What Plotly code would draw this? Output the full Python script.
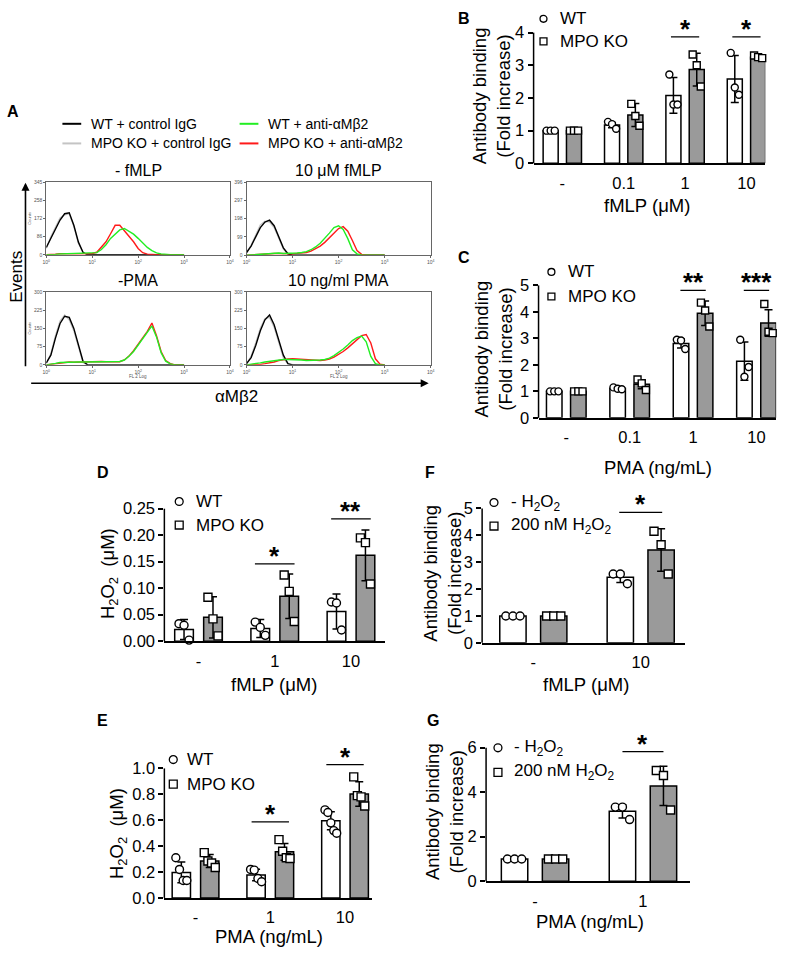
import plotly.graph_objects as go

W, H = 792, 956
FONT = "Liberation Sans, Arial, sans-serif"

# ---------------- panel A: flow cytometry histograms ----------------
# log10(FL2) channel positions where the curves were read off the picture
LOG_FL2 = [0.0, 0.1, 0.2, 0.3, 0.4, 0.5, 0.6, 0.7, 0.8, 0.9,
           1.0, 1.1, 1.2, 1.3, 1.4, 1.5, 1.6, 1.7, 1.8, 1.9,
           2.0, 2.1, 2.2, 2.3, 2.4, 2.5, 2.6, 2.7, 2.8, 2.9, 3.0]

HIST_TITLES = ["- fMLP", "10 μM fMLP", "-PMA", "10 ng/ml PMA"]
HIST_YTICKS = [[0, 86, 172, 258, 345], [0, 99, 198, 297, 396],
               [0, 75, 150, 225, 300], [0, 75, 150, 225, 300]]

# - fMLP
FMLP0_WT_IGG = [35, 80, 120, 165, 195, 200, 140, 60, 12, 0, 0, 0, 0, 0, 0, 0,
                0, 0, 0, 0, 0, 0, 0, 0, 0, 0, 0, 0, 0, 0, 0]
FMLP0_KO_IGG = [30, 85, 130, 175, 190, 195, 135, 55, 10, 0, 0, 0, 0, 0, 0, 0,
                0, 0, 0, 0, 0, 0, 0, 0, 0, 0, 0, 0, 0, 0, 0]
FMLP0_WT_ANTI = [0, 0, 2, 4, 5, 5, 6, 6, 7, 8, 8, 10, 25, 48, 78, 98,
                 118, 125, 112, 98, 78, 55, 35, 20, 9, 4, 1, 0, 0, 0, 0]
FMLP0_KO_ANTI = [0, 0, 3, 5, 6, 5, 5, 5, 5, 6, 6, 12, 35, 62, 100, 140,
                 140, 115, 90, 62, 30, 10, 3, 0, 0, 0, 0, 0, 0, 0, 0]
# 10 uM fMLP
FMLP10_WT_IGG = [15, 50, 100, 150, 180, 190, 160, 100, 40, 8, 0, 0, 0, 0, 0, 0,
                 0, 0, 0, 0, 0, 0, 0, 0, 0, 0, 0, 0, 0, 0, 0]
FMLP10_KO_IGG = [12, 55, 110, 165, 185, 180, 150, 90, 35, 5, 0, 0, 0, 0, 0, 0,
                 0, 0, 0, 0, 0, 0, 0, 0, 0, 0, 0, 0, 0, 0, 0]
FMLP10_WT_ANTI = [0, 2, 6, 8, 10, 10, 12, 12, 10, 10, 10, 12, 15, 20, 30, 45,
                  65, 90, 120, 150, 160, 140, 90, 30, 8, 0, 0, 0, 0, 0, 0]
FMLP10_KO_ANTI = [0, 2, 5, 8, 8, 10, 10, 10, 8, 8, 8, 10, 12, 15, 22, 35,
                  50, 70, 95, 125, 145, 155, 130, 80, 25, 5, 0, 0, 0, 0, 0]
# - PMA
PMA0_WT_IGG = [8, 40, 110, 170, 200, 195, 150, 80, 15, 0, 0, 0, 0, 0, 0, 0,
               0, 0, 0, 0, 0, 0, 0, 0, 0, 0, 0, 0, 0, 0, 0]
PMA0_KO_IGG = [5, 45, 120, 180, 205, 185, 140, 70, 10, 0, 0, 0, 0, 0, 0, 0,
               0, 0, 0, 0, 0, 0, 0, 0, 0, 0, 0, 0, 0, 0, 0]
PMA0_WT_ANTI = [0, 2, 6, 10, 11, 12, 12, 12, 12, 12, 14, 15, 15, 13, 12, 12,
                14, 20, 35, 55, 80, 105, 130, 160, 115, 50, 15, 4, 0, 0, 0]
PMA0_KO_ANTI = [0, 2, 5, 9, 10, 12, 11, 12, 13, 12, 13, 14, 14, 13, 12, 12,
                13, 20, 36, 58, 84, 110, 138, 172, 120, 55, 18, 5, 0, 0, 0]
# 10 ng/ml PMA
PMA10_WT_IGG = [5, 30, 80, 140, 185, 205, 165, 100, 40, 5, 0, 0, 0, 0, 0, 0,
                0, 0, 0, 0, 0, 0, 0, 0, 0, 0, 0, 0, 0, 0, 0]
PMA10_KO_IGG = [5, 35, 90, 150, 190, 195, 155, 90, 30, 3, 0, 0, 0, 0, 0, 0,
                0, 0, 0, 0, 0, 0, 0, 0, 0, 0, 0, 0, 0, 0, 0]
PMA10_WT_ANTI = [0, 2, 5, 8, 12, 15, 18, 20, 22, 22, 22, 20, 20, 18, 18, 18,
                 20, 22, 28, 38, 50, 65, 82, 100, 112, 118, 95, 35, 5, 0, 0]
PMA10_KO_ANTI = [0, 0, 1, 2, 5, 8, 12, 18, 22, 24, 25, 24, 22, 20, 18, 18,
                 18, 20, 24, 32, 42, 55, 70, 88, 105, 120, 125, 90, 25, 3, 0]

HIST_CURVES = [
    (FMLP0_KO_IGG, FMLP0_WT_IGG, FMLP0_KO_ANTI, FMLP0_WT_ANTI),
    (FMLP10_KO_IGG, FMLP10_WT_IGG, FMLP10_KO_ANTI, FMLP10_WT_ANTI),
    (PMA0_KO_IGG, PMA0_WT_IGG, PMA0_KO_ANTI, PMA0_WT_ANTI),
    (PMA10_KO_IGG, PMA10_WT_IGG, PMA10_KO_ANTI, PMA10_WT_ANTI),
]

# ---------------- panel B: fMLP, antibody binding ----------------
B_DOSES = ["-", "0.1", "1", "10"]
B_WT_MEAN = [1.0, 1.17, 2.08, 2.58]
B_WT_SD = [0.02, 0.08, 0.55, 0.72]
B_KO_MEAN = [1.0, 1.48, 2.87, 3.25]
B_KO_SD = [0.03, 0.35, 0.5, 0.06]
B_WT_PTS = [[1.0, 1.0, 1.0], [1.27, 1.2, 1.06], [2.72, 1.8, 1.8], [3.38, 2.32, 2.1]]
B_KO_PTS = [[1.0, 1.0, 1.0], [1.82, 1.45, 1.15], [3.33, 3.0, 2.35], [3.3, 3.25, 3.22]]
B_SIG = ["", "", "*", "*"]
B_SIG_Y = [None, None, 3.87, 3.87]

# ---------------- panel C: PMA, antibody binding ----------------
C_DOSES = ["-", "0.1", "1", "10"]
C_WT_MEAN = [1.0, 1.11, 2.81, 2.14]
C_WT_SD = [0.03, 0.04, 0.17, 0.72]
C_KO_MEAN = [1.0, 1.27, 3.95, 3.58]
C_KO_SD = [0.03, 0.17, 0.46, 0.5]
C_WT_PTS = [[1.0, 1.0, 1.0], [1.15, 1.1, 1.08], [2.95, 2.92, 2.6], [2.95, 1.55, 1.92]]
C_KO_PTS = [[1.0, 1.0, 1.0], [1.45, 1.3, 1.05], [4.35, 4.05, 3.45], [4.3, 3.25, 3.2]]
C_SIG = ["", "", "**", "***"]
C_SIG_Y = [None, None, 4.81, 4.81]

# ---------------- panel D: fMLP, H2O2 ----------------
D_DOSES = ["-", "1", "10"]
D_WT_MEAN = [0.022, 0.024, 0.056]
D_WT_SD = [0.019, 0.017, 0.033]
D_KO_MEAN = [0.045, 0.085, 0.162]
D_KO_SD = [0.039, 0.042, 0.048]
D_WT_PTS = [[0.033, 0.030, 0.002], [0.036, 0.026, 0.011], [0.074, 0.072, 0.021]]
D_KO_PTS = [[0.083, 0.042, 0.010], [0.125, 0.094, 0.037], [0.195, 0.186, 0.108]]
D_SIG = ["", "*", "**"]
D_SIG_Y = [None, 0.146, 0.231]

# ---------------- panel E: PMA, H2O2 ----------------
E_DOSES = ["-", "1", "10"]
E_WT_MEAN = [0.197, 0.177, 0.596]
E_WT_SD = [0.08, 0.045, 0.07]
E_KO_MEAN = [0.285, 0.356, 0.803]
E_KO_SD = [0.05, 0.065, 0.095]
E_WT_PTS = [[0.31, 0.22, 0.135, 0.135], [0.22, 0.215, 0.15, 0.125],
            [0.68, 0.66, 0.58, 0.52, 0.50]]
E_KO_PTS = [[0.35, 0.285, 0.27, 0.235], [0.45, 0.36, 0.31, 0.305],
            [0.935, 0.79, 0.78, 0.71]]
E_SIG = ["", "*", "*"]
E_SIG_Y = [None, 0.588, 1.03]

# ---------------- panel F: fMLP +/- H2O2 ----------------
F_DOSES = ["-", "10"]
F_CTRL_MEAN = [1.0, 2.44]
F_CTRL_SD = [0.01, 0.2]
F_H2O2_MEAN = [1.0, 3.45]
F_H2O2_SD = [0.02, 0.79]
F_CTRL_PTS = [[1.0, 1.0, 1.0], [2.56, 2.56, 2.2]]
F_H2O2_PTS = [[1.0, 1.0, 1.0], [4.15, 3.65, 2.56]]
F_SIG = ["", "*"]
F_SIG_Y = [None, 4.85]

# ---------------- panel G: PMA +/- H2O2 ----------------
G_DOSES = ["-", "1"]
G_CTRL_MEAN = [1.0, 3.14]
G_CTRL_SD = [0.01, 0.3]
G_H2O2_MEAN = [1.0, 4.28]
G_H2O2_SD = [0.02, 0.88]
G_CTRL_PTS = [[1.0, 1.0, 1.0], [3.33, 3.33, 2.77]]
G_H2O2_PTS = [[1.0, 1.0, 1.0], [4.97, 4.75, 3.2]]
G_SIG = ["", "*"]
G_SIG_Y = [None, 5.82]


def px_x(x):
    return x / W


def px_y(y):
    return 1 - y / H


fig = go.Figure()
shapes = []
annotations = []


def text(x, y, s, size=16, anchor="center", angle=0, bold=False, color="black", va="middle"):
    if bold:
        s = "<b>" + s + "</b>"
    annotations.append(dict(
        x=px_x(x), y=px_y(y), xref="paper", yref="paper", text=s, showarrow=False,
        xanchor=anchor, yanchor=va, textangle=angle,
        font=dict(family=FONT, size=size, color=color),
    ))


# ---- histograms
HIST_BOXES = [(42.7, 228.3, 176.5, 250.5), (245, 431, 176.5, 251),
              (42.7, 228.3, 288.3, 362.7), (245, 431, 288.3, 362.7)]
HIST_COLORS = ["#c4c4c4", "#000000", "#ff1a1a", "#22ee22"]
log_x = [10 ** v for v in LOG_FL2]

for i, (box, curves) in enumerate(zip(HIST_BOXES, HIST_CURVES)):
    k = i + 1
    for curve, color in zip(curves, HIST_COLORS):
        fig.add_trace(go.Scatter(
            x=log_x, y=curve, mode="lines", line=dict(color=color, width=1.4),
            xaxis=f"x{k}", yaxis=f"y{k}", showlegend=False, hoverinfo="skip",
        ))
    l, r, t, b = box
    fig.layout[f"xaxis{k}"] = dict(
        domain=[px_x(l), px_x(r)], anchor=f"y{k}", type="log", range=[0, 4],
        tickvals=[1, 10, 100, 1000, 10000],
        ticktext=["10<sup>0</sup>", "10<sup>1</sup>", "10<sup>2</sup>", "10<sup>3</sup>", "10<sup>4</sup>"],
        tickfont=dict(family=FONT, size=5, color="#555"), ticks="outside", ticklen=2,
        tickcolor="#666", showline=True, mirror=True, linecolor="#666", linewidth=1,
        showgrid=False, zeroline=False,
    )
    fig.layout[f"yaxis{k}"] = dict(
        domain=[px_y(b), px_y(t)], anchor=f"x{k}", range=[0, HIST_YTICKS[i][-1]],
        tickvals=HIST_YTICKS[i], tickfont=dict(family=FONT, size=5, color="#555"),
        ticks="outside", ticklen=2, tickcolor="#666", showline=True, mirror=True,
        linecolor="#666", linewidth=1, showgrid=False, zeroline=False,
    )
    text((l + r) / 2, t - 12, HIST_TITLES[i], size=16)

text(26, 213, "Counts", size=4, angle=-90, color="#555")
text(26, 325, "Counts", size=4, angle=-90, color="#555")
text(135.5, 375, "FL 2 Log", size=4.5, color="#555")
text(338, 375, "FL 2 Log", size=4.5, color="#555")

# legend for A
A_LEGEND = [("WT + control IgG", "#000000", 59, 117), ("MPO KO + control IgG", "#c4c4c4", 59, 137),
            ("WT + anti-αMβ2", "#22ee22", 238, 117), ("MPO KO + anti-αMβ2", "#ff1a1a", 238, 137)]
for label, color, lx, ly in A_LEGEND:
    shapes.append(dict(type="line", xref="paper", yref="paper", x0=px_x(lx), x1=px_x(lx + 19),
                       y0=px_y(ly), y1=px_y(ly), line=dict(color=color, width=2)))
    text(lx + 27, ly, label, size=14, anchor="left")

# axis arrows of A
annotations.append(dict(x=px_x(21.7), y=px_y(177), xref="paper", yref="paper", text="",
                        showarrow=True, ax=0, ay=185, arrowhead=2, arrowsize=1, arrowwidth=1.6,
                        arrowcolor="black", standoff=0, startstandoff=0))
annotations.append(dict(x=px_x(429), y=px_y(381.5), xref="paper", yref="paper", text="",
                        showarrow=True, ax=-399, ay=0, arrowhead=2, arrowsize=1, arrowwidth=1.6,
                        arrowcolor="black", standoff=0, startstandoff=0))
text(13, 273, "Events", size=17, angle=-90)
text(235, 395, "αMβ2", size=17)

# ---- bar panels
JITTER = {3: [-0.27, 0.0, 0.27], 4: [-0.3, -0.1, 0.1, 0.3], 5: [-0.32, -0.16, 0.0, 0.16, 0.32]}
BAR_W = 0.245
OFFSET = 0.19
TICK_SIZE = 16.5
TITLE_SIZE = 18.5

PANELS = [
    dict(k=5, doses=B_DOSES, a=(B_WT_MEAN, B_WT_SD, B_WT_PTS), b=(B_KO_MEAN, B_KO_SD, B_KO_PTS),
         sig=B_SIG, sig_y=B_SIG_Y, xl=535, xr=769, y0=157.3, ppu=33.3, ytop=4.0, ymax=4.0,
         xrange=[-0.468, 3.306], yticks=[0, 1, 2, 3, 4], yfmt="{:g}", half=0.23, msize=7),
    dict(k=6, doses=C_DOSES, a=(C_WT_MEAN, C_WT_SD, C_WT_PTS), b=(C_KO_MEAN, C_KO_SD, C_KO_PTS),
         sig=C_SIG, sig_y=C_SIG_Y, xl=540, xr=780, y0=416.7, ppu=27.0, ytop=5.0, ymax=5.0,
         xrange=[-0.4375, 3.31], yticks=[0, 1, 2, 3, 4, 5], yfmt="{:g}", half=0.2, msize=7),
    dict(k=7, doses=D_DOSES, a=(D_WT_MEAN, D_WT_SD, D_WT_PTS), b=(D_KO_MEAN, D_KO_SD, D_KO_PTS),
         sig=D_SIG, sig_y=D_SIG_Y, xl=162, xr=385, y0=644.3, ppu=540.0, ytop=0.25, ymax=0.25,
         xrange=[-0.448, 2.448], yticks=[0, 0.05, 0.1, 0.15, 0.2, 0.25], yfmt="{:.2f}", half=0.26, msize=8),
    dict(k=8, doses=E_DOSES, a=(E_WT_MEAN, E_WT_SD, E_WT_PTS), b=(E_KO_MEAN, E_KO_SD, E_KO_PTS),
         sig=E_SIG, sig_y=E_SIG_Y, xl=162, xr=372, y0=906, ppu=132.0, ytop=1.1, ymax=1.0,
         xrange=[-0.417, 2.364], yticks=[0, 0.2, 0.4, 0.6, 0.8, 1.0], yfmt="{:.1f}", half=0.25, msize=8),
    dict(k=9, doses=F_DOSES, a=(F_CTRL_MEAN, F_CTRL_SD, F_CTRL_PTS), b=(F_H2O2_MEAN, F_H2O2_SD, F_H2O2_PTS),
         sig=F_SIG, sig_y=F_SIG_Y, xl=483, xr=688, y0=646, ppu=27.4, ytop=5.0, ymax=5.0,
         xrange=[-0.477, 1.413], yticks=[0, 1, 2, 3, 4, 5], yfmt="{:g}", half=0.2, msize=8),
    dict(k=10, doses=G_DOSES, a=(G_CTRL_MEAN, G_CTRL_SD, G_CTRL_PTS), b=(G_H2O2_MEAN, G_H2O2_SD, G_H2O2_PTS),
         sig=G_SIG, sig_y=G_SIG_Y, xl=487, xr=693, y0=889, ppu=22.7, ytop=6.0, ymax=6.0,
         xrange=[-0.454, 1.436], yticks=[0, 2, 4, 6], yfmt="{:g}", half=0.19, msize=8),
]

for p in PANELS:
    k = p["k"]
    n = len(p["doses"])
    for (mean, sd, pts), side, fill, sym in [(p["a"], -1, "white", "circle"), (p["b"], 1, "#9a9a9a", "square")]:
        xs = [i + side * OFFSET for i in range(n)]
        fig.add_trace(go.Bar(
            x=xs, y=mean, width=BAR_W, marker=dict(color=fill, line=dict(color="black", width=1.5)),
            error_y=dict(type="data", array=sd, visible=True, color="black", thickness=1.5, width=4),
            xaxis=f"x{k}", yaxis=f"y{k}", showlegend=False, hoverinfo="skip",
        ))
        px_pts, py_pts = [], []
        for i, grp in enumerate(pts):
            for j, v in zip(JITTER[len(grp)], grp):
                px_pts.append(xs[i] + j * BAR_W)
                py_pts.append(v)
        fig.add_trace(go.Scatter(
            x=px_pts, y=py_pts, mode="markers", cliponaxis=False,
            marker=dict(symbol=sym, size=p["msize"], color="white", line=dict(color="black", width=1.4)),
            xaxis=f"x{k}", yaxis=f"y{k}", showlegend=False, hoverinfo="skip",
        ))
    top_px = p["y0"] - p["ytop"] * p["ppu"]
    fig.layout[f"xaxis{k}"] = dict(
        domain=[px_x(p["xl"]), px_x(p["xr"])], anchor=f"y{k}", range=p["xrange"],
        tickvals=list(range(n)), ticktext=p["doses"], ticks="", showline=True,
        linecolor="black", linewidth=1.5, showgrid=False, zeroline=False,
        tickfont=dict(family=FONT, size=TICK_SIZE, color="black"), ticklabelstandoff=4,
    )
    fig.layout[f"yaxis{k}"] = dict(
        domain=[px_y(p["y0"]), px_y(top_px)], anchor=f"x{k}", range=[0, p["ytop"]],
        tickvals=p["yticks"], ticktext=[p["yfmt"].format(v) for v in p["yticks"]],
        ticks="outside", ticklen=5, tickwidth=1.5, tickcolor="black", showline=False,
        showgrid=False, zeroline=False, tickfont=dict(family=FONT, size=TICK_SIZE, color="black"),
    )
    # y axis line only up to the last tick
    shapes.append(dict(type="line", xref=f"x{k} domain", yref=f"y{k} domain", x0=0, x1=0,
                       y0=0, y1=p["ymax"] / p["ytop"], line=dict(color="black", width=1.5)))
    for i, (s, sy) in enumerate(zip(p["sig"], p["sig_y"])):
        if not s:
            continue
        shapes.append(dict(type="line", xref=f"x{k}", yref=f"y{k}", x0=i - p["half"], x1=i + p["half"],
                           y0=sy, y1=sy, line=dict(color="black", width=1.3)))
        annotations.append(dict(x=i, y=sy, xref=f"x{k}", yref=f"y{k}", text="<b>" + s + "</b>",
                                showarrow=False, yanchor="bottom", yshift=-9,
                                font=dict(family=FONT, size=26, color="black")))

# legends of bar panels: symbol x, circle row y, square row y, text x
BAR_LEGENDS = [
    (545, 10, 33, 560, "WT", "MPO KO", 3.5),
    (553, 268, 293, 568, "WT", "MPO KO", 3.5),
    (177, 502, 526, 192, "WT", "MPO KO", 4),
    (171, 765, 790, 183, "WT", "MPO KO", 4),
    (495, 503, 527, 510, "- H<sub>2</sub>O<sub>2</sub>", "200 nM H<sub>2</sub>O<sub>2</sub>", 4),
    (499, 753, 778, 513, "- H<sub>2</sub>O<sub>2</sub>", "200 nM H<sub>2</sub>O<sub>2</sub>", 4),
]
for cx, cy1, cy2, tx, la, lb, r in BAR_LEGENDS:
    shapes.append(dict(type="circle", xref="paper", yref="paper", x0=px_x(cx - r), x1=px_x(cx + r),
                       y0=px_y(cy1 + r), y1=px_y(cy1 - r), line=dict(color="black", width=1.3),
                       fillcolor="white"))
    shapes.append(dict(type="rect", xref="paper", yref="paper", x0=px_x(cx - r), x1=px_x(cx + r),
                       y0=px_y(cy2 + r), y1=px_y(cy2 - r), line=dict(color="black", width=1.3),
                       fillcolor="white"))
    text(tx, cy1, la, size=17, anchor="left")
    text(tx, cy2, lb, size=17, anchor="left")

# axis titles
YT_AB = "Antibody binding<br>(Fold increase)"
YT_H2O2 = "H<sub>2</sub>O<sub>2</sub>  (μM)"
text(492, 89, YT_AB, size=TITLE_SIZE, angle=-90)
text(494, 347, YT_AB, size=TITLE_SIZE, angle=-90)
text(106, 575, YT_H2O2, size=TITLE_SIZE, angle=-90)
text(115, 840, YT_H2O2, size=TITLE_SIZE, angle=-90)
text(443, 575, YT_AB, size=TITLE_SIZE, angle=-90)
text(445, 818, YT_AB, size=TITLE_SIZE, angle=-90)
text(650, 200, "fMLP (μM)", size=TITLE_SIZE)
text(661, 467, "PMA (ng/mL)", size=TITLE_SIZE)
text(273, 688, "fMLP (μM)", size=TITLE_SIZE)
text(268, 945, "PMA (ng/mL)", size=TITLE_SIZE)
text(588, 688, "fMLP (μM)", size=TITLE_SIZE)
text(592, 930, "PMA (ng/mL)", size=TITLE_SIZE)

# panel letters
for letter, x, y in [("A", 9, 104), ("B", 465, 10), ("C", 465, 253), ("D", 100, 472),
                     ("E", 100, 725), ("F", 430, 472), ("G", 433, 725)]:
    text(x, y, letter, size=16, bold=True)

fig.update_layout(
    width=W, height=H, margin=dict(l=0, r=0, t=0, b=0),
    paper_bgcolor="white", plot_bgcolor="white", barmode="overlay",
    shapes=shapes, annotations=annotations, showlegend=False,
    font=dict(family=FONT, color="black"),
)

# drop the browser's default body margin so the figure sits at the page origin
fig.write_html("out.html", config={"displayModeBar": False},
               post_script="document.body.style.margin='0px';")
